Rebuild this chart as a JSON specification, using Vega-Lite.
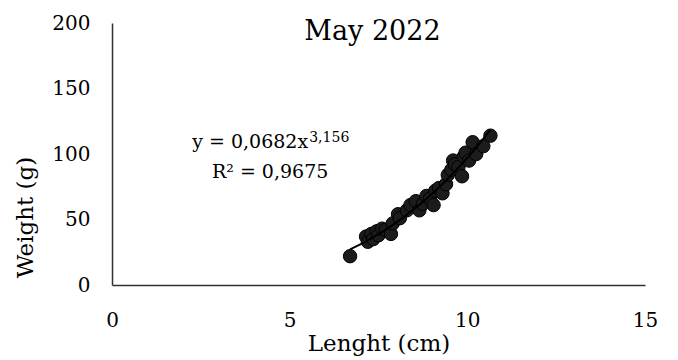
{
  "$schema": "https://vega.github.io/schema/vega-lite/v6.json",
  "width": 533,
  "height": 262,
  "autosize": {"type": "none"},
  "padding": {"left": 112, "top": 23, "right": 33, "bottom": 75},
  "background": "white",
  "config": {
    "font": "DejaVu Serif",
    "view": {"stroke": null},
    "axis": {
      "grid": false,
      "ticks": false,
      "labelFlush": false,
      "domainColor": "#303030",
      "domainWidth": 1.5,
      "labelFont": "DejaVu Serif",
      "labelFontSize": 20,
      "labelColor": "#000",
      "titleFont": "DejaVu Serif",
      "titleFontSize": 23,
      "titleFontWeight": "normal",
      "titleColor": "#000"
    }
  },
  "title": {
    "text": "May 2022",
    "font": "DejaVu Serif",
    "fontSize": 27,
    "fontWeight": "normal",
    "color": "#000",
    "anchor": "middle",
    "offset": -33,
    "dx": -6
  },
  "datasets": {
    "fish": [
      {"length": 6.7, "weight": 22},
      {"length": 7.15, "weight": 37},
      {"length": 7.2, "weight": 33},
      {"length": 7.3, "weight": 39},
      {"length": 7.35, "weight": 35},
      {"length": 7.45, "weight": 41},
      {"length": 7.5, "weight": 38},
      {"length": 7.6, "weight": 43},
      {"length": 7.7, "weight": 42},
      {"length": 7.85, "weight": 39},
      {"length": 7.9, "weight": 47},
      {"length": 8.05, "weight": 54},
      {"length": 8.1, "weight": 51},
      {"length": 8.3, "weight": 57},
      {"length": 8.4, "weight": 61},
      {"length": 8.55, "weight": 64},
      {"length": 8.65, "weight": 57},
      {"length": 8.75, "weight": 62},
      {"length": 8.85, "weight": 68},
      {"length": 8.95, "weight": 66},
      {"length": 9.05, "weight": 61},
      {"length": 9.1, "weight": 72},
      {"length": 9.2, "weight": 74},
      {"length": 9.3, "weight": 70},
      {"length": 9.4, "weight": 77},
      {"length": 9.45, "weight": 84},
      {"length": 9.55, "weight": 88},
      {"length": 9.6, "weight": 95},
      {"length": 9.65, "weight": 92},
      {"length": 9.75, "weight": 90},
      {"length": 9.85, "weight": 83},
      {"length": 9.9, "weight": 98},
      {"length": 9.95, "weight": 101},
      {"length": 10.05, "weight": 95},
      {"length": 10.15, "weight": 109},
      {"length": 10.25, "weight": 100},
      {"length": 10.45, "weight": 106},
      {"length": 10.65, "weight": 114}
    ],
    "labels": [
      {"length": 5.52, "weight": 104.6, "text": "y = 0,0682x", "part": "main"},
      {"length": 5.55, "weight": 109.2, "text": "3,156", "part": "sup"},
      {"length": 4.45, "weight": 81.7, "text": "R² = 0,9675", "part": "r2"}
    ]
  },
  "layer": [
    {
      "data": {"name": "fish"},
      "mark": {"type": "circle", "size": 180, "color": "#1c1c1c", "stroke": "#000", "strokeWidth": 1, "opacity": 1},
      "encoding": {
        "x": {
          "field": "length", "type": "quantitative",
          "scale": {"domain": [0, 15], "nice": false, "zero": false},
          "axis": {"values": [0, 5, 10, 15], "title": "Lenght (cm)", "labelPadding": 25, "titleY": 65, "titleBaseline": "alphabetic"}
        },
        "y": {
          "field": "weight", "type": "quantitative",
          "scale": {"domain": [0, 200], "nice": false},
          "axis": {"values": [0, 50, 100, 150, 200], "title": "Weight (g)", "labelPadding": 22, "titleX": -80, "titleY": 194, "titleBaseline": "alphabetic", "titleAngle": -90}
        }
      }
    },
    {
      "data": {"name": "fish"},
      "transform": [{"regression": "weight", "on": "length", "method": "pow"}],
      "mark": {"type": "line", "color": "#000", "strokeWidth": 2},
      "encoding": {
        "x": {"field": "length", "type": "quantitative"},
        "y": {"field": "weight", "type": "quantitative"}
      }
    },
    {
      "data": {"name": "labels"},
      "transform": [{"filter": "datum.part == 'main'"}],
      "mark": {"type": "text", "align": "right", "baseline": "alphabetic", "fontSize": 19, "font": "DejaVu Serif", "color": "#000"},
      "encoding": {
        "x": {"field": "length", "type": "quantitative"},
        "y": {"field": "weight", "type": "quantitative"},
        "text": {"field": "text"}
      }
    },
    {
      "data": {"name": "labels"},
      "transform": [{"filter": "datum.part == 'sup'"}],
      "mark": {"type": "text", "align": "left", "baseline": "alphabetic", "fontSize": 14, "font": "DejaVu Serif", "color": "#000"},
      "encoding": {
        "x": {"field": "length", "type": "quantitative"},
        "y": {"field": "weight", "type": "quantitative"},
        "text": {"field": "text"}
      }
    },
    {
      "data": {"name": "labels"},
      "transform": [{"filter": "datum.part == 'r2'"}],
      "mark": {"type": "text", "align": "center", "baseline": "alphabetic", "fontSize": 19, "font": "DejaVu Serif", "color": "#000"},
      "encoding": {
        "x": {"field": "length", "type": "quantitative"},
        "y": {"field": "weight", "type": "quantitative"},
        "text": {"field": "text"}
      }
    }
  ]
}
